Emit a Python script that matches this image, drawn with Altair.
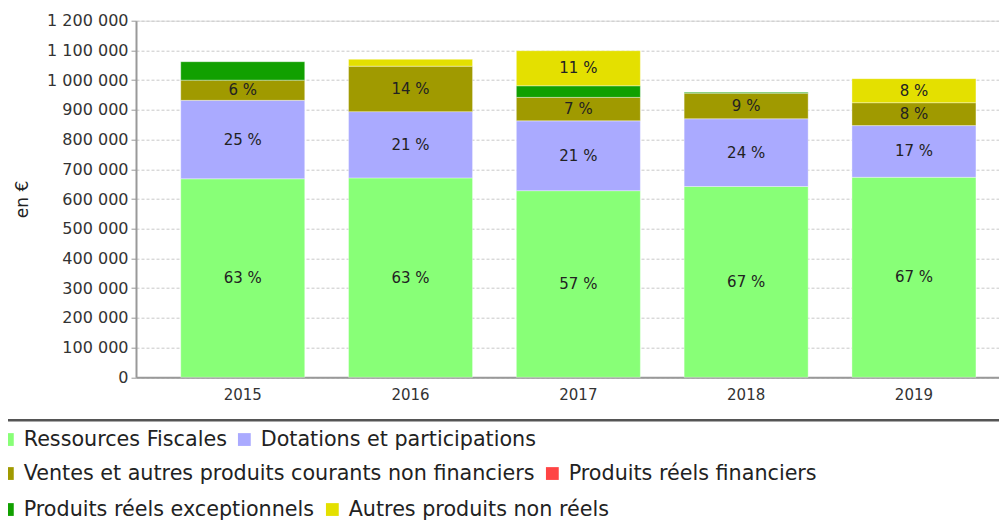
import altair as alt
import pandas as pd

years = ["2015", "2016", "2017", "2018", "2019"]
categories = [
    "Ressources Fiscales",
    "Dotations et participations",
    "Ventes et autres produits courants non financiers",
    "Produits réels financiers",
    "Produits réels exceptionnels",
    "Autres produits non réels",
]
colors = ["#88ff77", "#aaaaff", "#a09a00", "#ff4444", "#11a000", "#e4e000"]

ressources = [668000, 671000, 628000, 642000, 673000]
dotations = [264000, 223000, 235000, 228000, 174000]
ventes = [68000, 153000, 79000, 86000, 77000]
financiers = [0, 0, 0, 0, 0]
exceptionnels = [62000, 0, 39000, 3000, 0]
autres = [0, 23000, 118000, 0, 81000]

y_ticks = [0, 100000, 200000, 300000, 400000, 500000, 600000,
           700000, 800000, 900000, 1000000, 1100000, 1200000]

series = [ressources, dotations, ventes, financiers, exceptionnels, autres]
rows = []
for i, (cat, vals) in enumerate(zip(categories, series)):
    for yr, v in zip(years, vals):
        rows.append({"year": yr, "cat": cat, "idx": i, "value": v})
df = pd.DataFrame(rows)

W, H = 863, 356.6
FONT = "DejaVu Sans"

x_enc = alt.X(
    "year:N", sort=years,
    scale=alt.Scale(paddingInner=0.261, paddingOuter=0.202, align=0.66),
    axis=alt.Axis(title=None, labelAngle=0, ticks=False, labelPadding=10,
                  labelFontSize=15, labelColor="#333", domainColor="#999",
                  domainWidth=2, grid=False),
)

bars = alt.Chart(df).transform_filter("datum.value > 0").mark_bar(
    stroke="#ffffff", strokeWidth=0.6, strokeOpacity=0.6
).encode(
    x=x_enc,
    y=alt.Y(
        "value:Q", stack="zero",
        scale=alt.Scale(domain=[0, 1200000], nice=False),
        axis=alt.Axis(
            values=y_ticks, title="en €", labelOverlap=False,
            tickCount=30,
            labelExpr="replace(format(datum.value, ','), /,/g, ' ')",
            labelFontSize=16, labelColor="#333", labelPadding=3,
            tickColor="#999", tickSize=5, domainColor="#999", domainWidth=2,
            gridColor="#c8c8c8", gridDash=[3, 2], gridWidth=1,
            titleFontSize=17, titleFontWeight="normal", titleColor="#222",
            titleAngle=270, titleAlign="center", titleBaseline="middle",
            titleX=-114, titleY=H / 2,
        ),
    ),
    color=alt.Color("cat:N", scale=alt.Scale(domain=categories, range=colors),
                    legend=None),
    order=alt.Order("idx:Q", sort="ascending"),
)

text = alt.Chart(df).transform_filter("datum.value > 0").transform_joinaggregate(
    total="sum(value)", groupby=["year"]
).transform_stack(
    stack="value", groupby=["year"],
    sort=[alt.SortField("idx", order="ascending")], as_=["v0", "v1"]
).transform_calculate(
    mid="(datum.v0 + datum.v1) / 2",
    pct="datum.value / datum.total",
    label="format(datum.value / datum.total * 100, '.0f') + ' %'",
).transform_filter("datum.pct >= 0.06").mark_text(
    fontSize=15, color="#222", font=FONT
).encode(
    x=alt.X("year:N", sort=years),
    y=alt.Y("mid:Q"),
    text="label:N",
)

sep = alt.Chart(pd.DataFrame({"k": [0]})).mark_rule(
    color="#555", strokeWidth=2.5
).encode(x=alt.value(-140), x2=alt.value(W + 20), y=alt.value(399.5))

pairs = [(0, 1), (2, 3), (4, 5)]
row_y = [408, 442, 478]
legend_layers = []
for r, (a, b) in enumerate(pairs):
    cats = [categories[a], categories[b]]
    legend_layers.append(
        alt.Chart(df).transform_filter(
            alt.FieldOneOfPredicate(field="cat", oneOf=cats)
        ).mark_square(opacity=0).encode(
            x=alt.value(0), y=alt.value(0),
            color=alt.Color(
                "cat:N",
                scale=alt.Scale(domain=cats, range=[colors[a], colors[b]]),
                legend=alt.Legend(
                    orient="none", legendX=-139, legendY=row_y[r],
                    direction="horizontal", columns=2, title=None,
                    symbolType="square", symbolSize=164, symbolOpacity=1,
                    symbolStrokeWidth=0, labelFontSize=20.7, labelOffset=6,
                    columnPadding=7, padding=0, labelColor="#222",
                    labelLimit=0, labelFont=FONT,
                ),
            ),
        )
    )

chart = alt.layer(bars, text, sep, *legend_layers).resolve_scale(
    color="independent"
).properties(
    width=W, height=H,
    padding={"left": 128, "top": 12.7, "right": 0, "bottom": 143.7},
    autosize="none",
).configure_view(stroke=None).configure(font=FONT)

chart.save("out.html", embed_options={"renderer": "svg", "actions": False})
